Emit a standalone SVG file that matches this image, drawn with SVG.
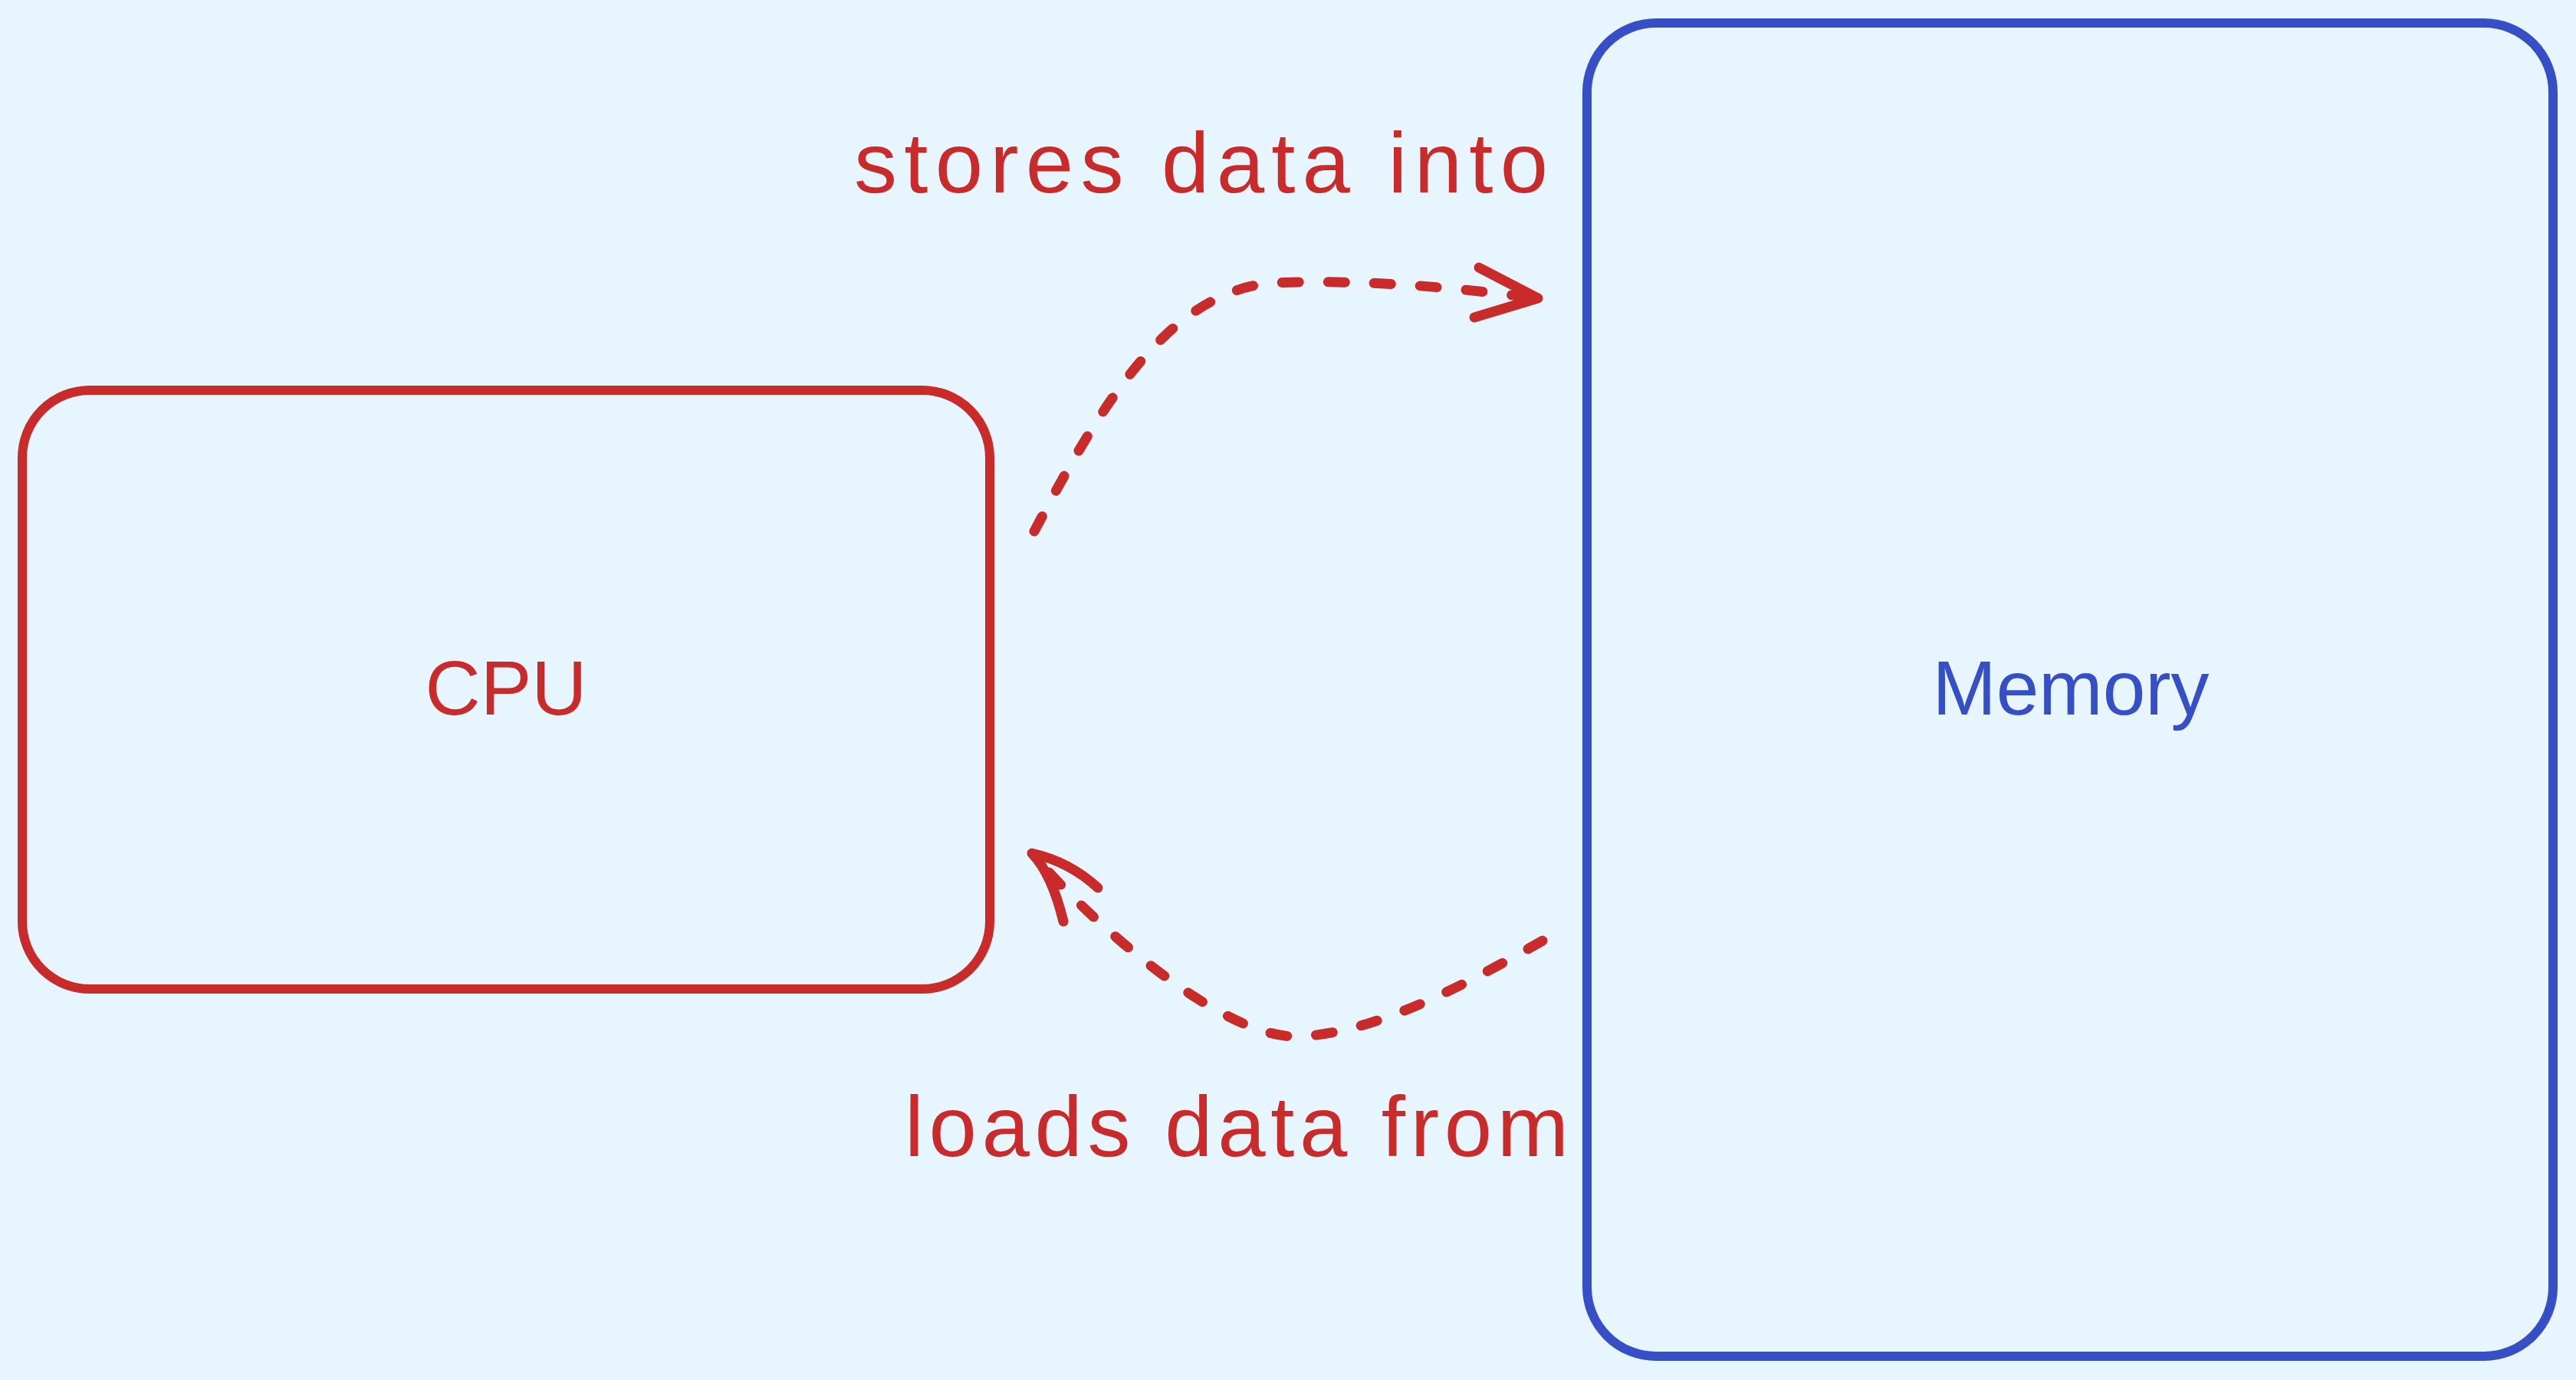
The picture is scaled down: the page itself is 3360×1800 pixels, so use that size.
<svg xmlns="http://www.w3.org/2000/svg" width="3360" height="1800" viewBox="0 0 3360 1800">
<style>
.box{fill:none;stroke-width:12;stroke-linejoin:round}
.red{stroke:#c92a2a}
.blue{stroke:#364fc7}
.lbl{font-family:"Liberation Sans",Arial,sans-serif;font-size:100px}
.edge{font-family:"Liberation Sans",Arial,sans-serif;font-size:112px}
.tred{fill:#c92a2a}
.tblue{fill:#364fc7}
.dash{fill:none;stroke:#c92a2a;stroke-width:13;stroke-linecap:round;stroke-dasharray:22 38}
.head{fill:none;stroke:#c92a2a;stroke-width:13;stroke-linecap:round;stroke-linejoin:round}
</style>
<rect x="0" y="0" width="3360" height="1800" fill="#e7f5ff"/>
<g id="cpu">
<rect class="box red" x="29" y="509" width="1262" height="781" rx="88" ry="88"/>
<text class="lbl tred" x="660" y="932" text-anchor="middle">CPU</text>
</g>
<g id="memory">
<rect class="box blue" x="2070" y="30" width="1260" height="1739" rx="90" ry="90"/>
<text class="lbl tblue" x="2701" y="932" text-anchor="middle">Memory</text>
</g>
<g id="connectors">
<g id="store-arrow">
<path class="dash" d="M1349,693 C1430,540 1520,380 1660,369 C1780,364 1900,375 2003,389"/>
<path class="head" d="M1929,349 L2006,389 L1923,414"/>
<text class="edge tred" x="1114" y="251" textLength="905" lengthAdjust="spacing">stores data into</text>
</g>
<g id="load-arrow">
<path class="dash" d="M2012,1227 C1910,1285 1790,1350 1690,1352 C1590,1352 1420,1200 1348,1115"/>
<path class="head" d="M1432,1158 Q1395,1124 1346,1113 Q1372,1140 1387,1202"/>
<text class="edge tred" x="1180" y="1508" textLength="866" lengthAdjust="spacing">loads data from</text>
</g>
</g>
</svg>
